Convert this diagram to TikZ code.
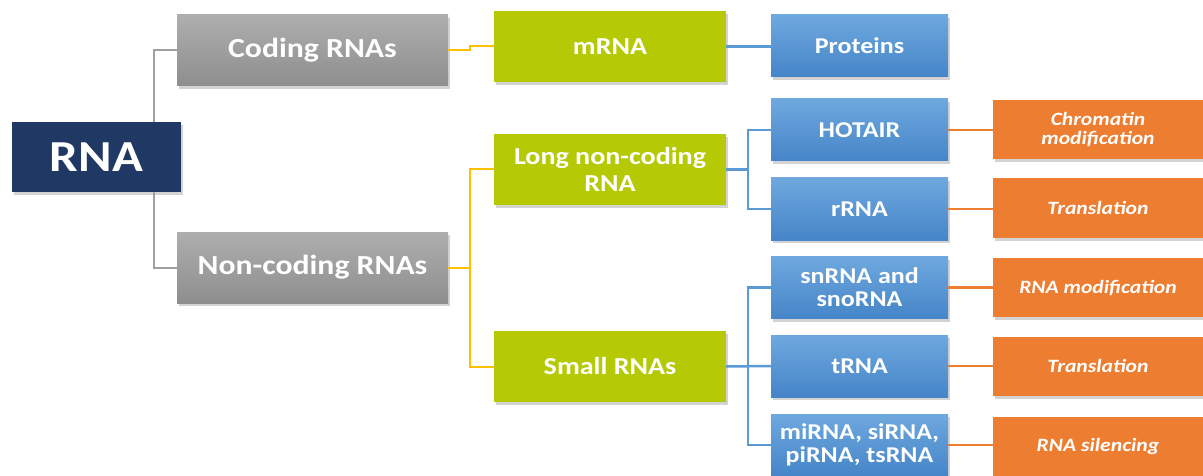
\documentclass[tikz,border=0pt]{standalone}
\usepackage{fontspec}
\setmainfont{Carlito}[FakeStretch=1.15]
\usetikzlibrary{shadows}

\definecolor{navy}{HTML}{1F3864}
\definecolor{leaf}{HTML}{B5C905}
\definecolor{sky}{HTML}{5B9BD5}
\definecolor{skytop}{HTML}{6EA8DE}
\definecolor{skybot}{HTML}{4585C8}
\definecolor{stone}{HTML}{A0A0A0}
\definecolor{stonetop}{HTML}{AEAEAE}
\definecolor{stonebot}{HTML}{8E8E8E}
\definecolor{amber}{HTML}{FFC000}
\definecolor{rust}{HTML}{ED7D31}

\newcommand{\fs}[2]{\fontsize{#1}{#2}\selectfont}

\tikzset{
  box/.style={rectangle, align=center, text=white, font=\bfseries, inner sep=0pt,
    drop shadow={opacity=0.35, shadow xshift=2pt, shadow yshift=-3pt}},
  rootbox/.style={box, fill=navy, minimum width=169pt, minimum height=70pt,
    font=\bfseries\fs{44.3}{50}},
  classbox/.style={box, top color=stonetop, bottom color=stonebot,
    minimum width=271pt, minimum height=71pt, font=\bfseries\fs{27.6}{31}},
  typebox/.style={box, fill=leaf, minimum width=232pt, minimum height=71pt,
    font=\bfseries\fs{24.4}{27}},
  genebox/.style={box, top color=skytop, bottom color=skybot,
    minimum width=177pt, minimum height=62pt, font=\bfseries\fs{22.6}{23}},
  rolebox/.style={box, fill=rust, minimum width=210pt, minimum height=59pt,
    font=\bfseries\itshape\fs{18.8}{19}},
  grayline/.style={draw=stone, line width=2pt},
  amberline/.style={draw=amber, line width=2pt},
  skyline/.style={draw=sky, line width=2.5pt},
  rustline/.style={draw=rust, line width=2.5pt}
}

\begin{document}
\begin{tikzpicture}[x=1pt,y=-1pt]
  \useasboundingbox (0,0) rectangle (1203,476);

  \node[rootbox] (rna) at (96.5,157) {RNA};

  \node[classbox] (coding) at (312.5,50.5) {Coding RNAs};
  \node[classbox] (noncoding) at (312.5,267.5) {Non-coding RNAs};

  \node[typebox] (mrna) at (610,46.5) {mRNA};
  \node[typebox] (lnc) at (610,169.5) {Long non-coding\\RNA};
  \node[typebox] (small) at (610,366.5) {Small RNAs};

  \node[genebox] (proteins) at (859.5,46) {Proteins};
  \node[genebox] (hotair) at (859.5,130) {HOTAIR};
  \node[genebox] (rrna) at (859.5,209) {rRNA};
  \node[genebox] (snrna) at (859.5,287.5) {snRNA and\\snoRNA};
  \node[genebox] (trna) at (859.5,366) {tRNA};
  \node[genebox] (mirna) at (859.5,445) {miRNA, siRNA,\\piRNA, tsRNA};

  \node[rolebox] (chromatin) at (1098,129.5) {Chromatin\\modification};
  \node[rolebox] (transl) at (1098,208) {Translation};
  \node[rolebox] (rnamod) at (1098,287.5) {RNA modification};
  \node[rolebox] (transltwo) at (1098,366) {Translation};
  \node[rolebox] (silencing) at (1098,446) {RNA silencing};

  % tree lines
  \draw[grayline] (coding.west) -| ([xshift=-27pt]rna.north east);
  \draw[grayline] (noncoding.west) -| ([xshift=-27pt]rna.south east);

  \draw[amberline] (coding.east) -- ++(22,0) |- (mrna.west);
  \draw[amberline] (noncoding.east) -- ++(22,0) coordinate (nsplit);
  \draw[amberline] (lnc.west) -| (nsplit) |- (small.west);

  \draw[skyline] (mrna.east) -- (mrna.east -| proteins.west);
  \draw[skyline] (lnc.east) -- ++(22,0) coordinate (lsplit);
  \draw[skyline] (hotair.west) -| (lsplit) |- (rrna.west);
  \draw[skyline] (small.east) -- (trna.west);
  \draw[skyline] (snrna.west) -| ([xshift=22pt]small.east) |- (mirna.west);

  \draw[rustline] (hotair.east) -- (hotair.east -| chromatin.west);
  \draw[rustline] (rrna.east) -- (rrna.east -| transl.west);
  \draw[rustline] (snrna.east) -- (snrna.east -| rnamod.west);
  \draw[rustline] (trna.east) -- (transltwo.west);
  \draw[rustline] (mirna.east) -- (mirna.east -| silencing.west);
\end{tikzpicture}
\end{document}
